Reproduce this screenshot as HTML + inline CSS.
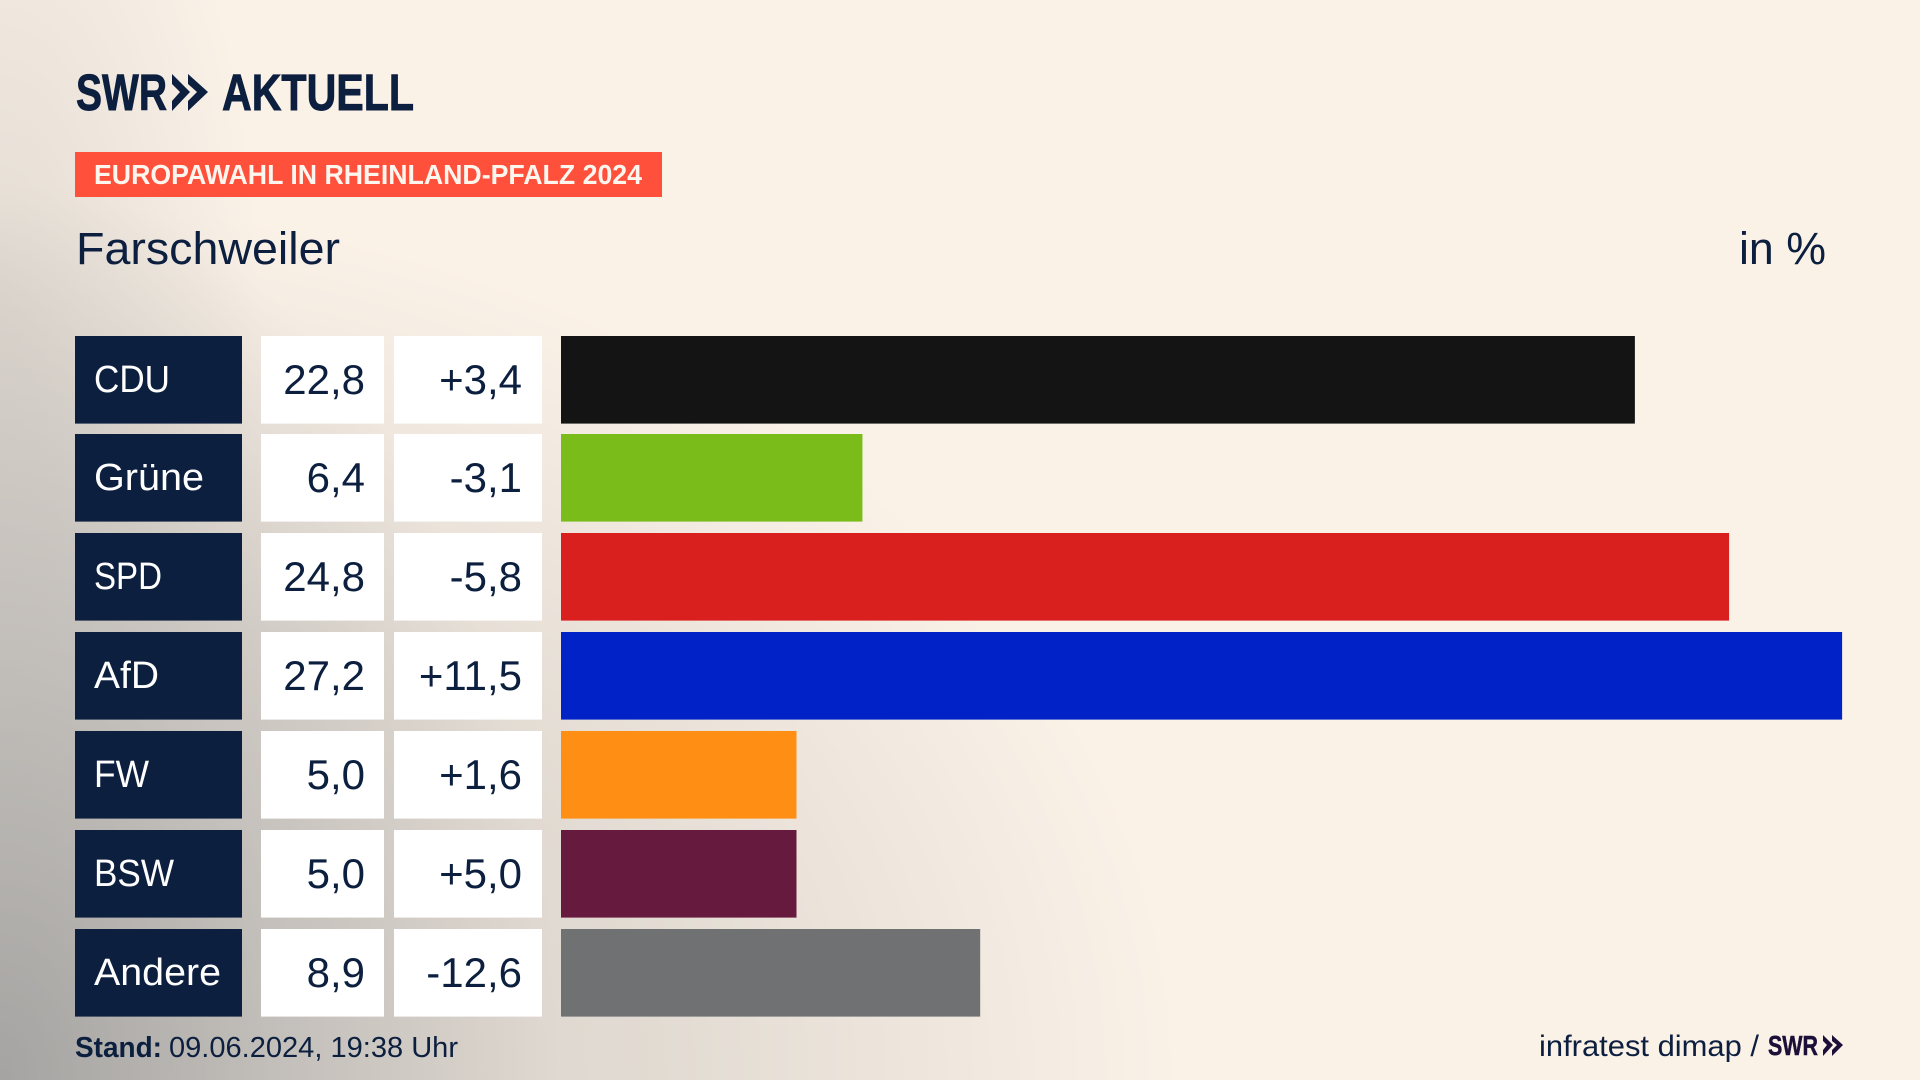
<!DOCTYPE html>
<html lang="de">
<head>
<meta charset="utf-8">
<title>Europawahl in Rheinland-Pfalz 2024 – Farschweiler</title>
<style>
html,body{margin:0;padding:0;width:1920px;height:1080px;overflow:hidden;background:#faf1e7}
#bg{position:absolute;left:0;top:0;width:1920px;height:1080px;
background:
radial-gradient(ellipse 560px 900px at 0px 1080px,rgba(150,150,150,.75) 0%,rgba(160,160,160,.4) 50%,rgba(170,170,170,0) 100%),
radial-gradient(ellipse 1180px 880px at 0px 1080px,rgba(165,162,158,.45) 0%,rgba(170,167,163,.3) 55%,rgba(180,177,172,0) 100%),
radial-gradient(ellipse 260px 560px at 0px 300px,rgba(170,167,163,.28) 0%,rgba(170,167,163,0) 100%),
#faf1e7}
svg{position:absolute;left:0;top:0}
text{font-family:"Liberation Sans","DejaVu Sans",sans-serif}
</style>
</head>
<body>
<div id="bg"></div>
<svg id="chart" width="1920" height="1080" viewBox="0 0 1920 1080" xmlns="http://www.w3.org/2000/svg">
  <g fill="#0c1f3f">
    <text x="76" y="110" font-size="51" font-weight="700" stroke="#0c1f3f" stroke-width="0.9" textLength="91" lengthAdjust="spacingAndGlyphs">SWR</text>
    <polygon points="172,74 190,92 172,111 172,101 180,92 172,84"/>
    <polygon points="188,74 208,92 188,111 188,101 197,92 188,84"/>
    <text x="222" y="110" font-size="51" font-weight="700" stroke="#0c1f3f" stroke-width="0.9" textLength="192" lengthAdjust="spacingAndGlyphs">AKTUELL</text>
  </g>
  <rect x="75" y="152" width="587" height="45" fill="#ff503c"/>
  <text x="94" y="184" font-size="28" font-weight="700" fill="#fdf6ee" textLength="548" lengthAdjust="spacingAndGlyphs">EUROPAWAHL IN RHEINLAND-PFALZ 2024</text>
  <text x="76" y="264" font-size="45" fill="#0c1f3f" textLength="264" lengthAdjust="spacingAndGlyphs">Farschweiler</text>
  <text x="1739" y="264" font-size="45" fill="#0c1f3f" textLength="87" lengthAdjust="spacingAndGlyphs">in %</text>
  <g id="rows"></g>
  <text x="75" y="1057" font-size="29" fill="#0c1f3f"><tspan font-weight="700" textLength="87" lengthAdjust="spacingAndGlyphs">Stand:</tspan><tspan x="169" textLength="289" lengthAdjust="spacingAndGlyphs">09.06.2024, 19:38 Uhr</tspan></text>
  <text x="1539" y="1056" font-size="30" fill="#0c1f3f" textLength="220" lengthAdjust="spacingAndGlyphs">infratest dimap /</text>
  <g fill="#1c1038">
    <text x="1768" y="1055" font-size="28" font-weight="700" stroke="#1c1038" stroke-width="0.5" textLength="50" lengthAdjust="spacingAndGlyphs">SWR</text>
    <polygon points="1823,1035 1833,1045 1823,1056 1823,1050 1827,1045 1823,1041"/>
    <polygon points="1832,1035 1843,1045 1832,1056 1832,1050 1837,1045 1832,1041"/>
  </g>
</svg>
<script>
const parties = ["CDU", "Grüne", "SPD", "AfD", "FW", "BSW", "Andere"];
const shares = [22.8, 6.4, 24.8, 27.2, 5.0, 5.0, 8.9];
const changes = [3.4, -3.1, -5.8, 11.5, 1.6, 5.0, -12.6];
const partyColors = ["#141414", "#7abd1a", "#d9201f", "#0022c6", "#ff8f14", "#661a3e", "#6f7173"];

const SVG_NS = "http://www.w3.org/2000/svg";
const rowsGroup = document.getElementById("rows");
const labelFit = { "CDU": 76, "Grüne": 110, "SPD": 68, "AfD": 65, "FW": 55, "BSW": 80, "Andere": 127 };

function xLength(v) { return v * 47.1; }
function yTop(i) { return Math.floor(336 + i * 98.85); }
function formatShare(v) { return v.toFixed(1).replace(".", ","); }
function formatChange(v) { return (v > 0 ? "+" : "") + v.toFixed(1).replace(".", ","); }

function makeRect(x, y, w, h, fill) {
  const r = document.createElementNS(SVG_NS, "rect");
  r.setAttribute("x", x);
  r.setAttribute("y", y);
  r.setAttribute("width", w);
  r.setAttribute("height", h);
  r.setAttribute("fill", fill);
  return r;
}
function makeText(x, y, size, fill, anchor, content) {
  const t = document.createElementNS(SVG_NS, "text");
  t.setAttribute("x", x);
  t.setAttribute("y", y);
  t.setAttribute("font-size", size);
  t.setAttribute("fill", fill);
  t.setAttribute("text-anchor", anchor);
  t.textContent = content;
  return t;
}

parties.forEach(function (party, i) {
  const top = yTop(i);
  const rowH = 87.6;
  const key = party.toLowerCase().replace("ü", "ue");

  const labelBox = makeRect(75, top, 167, rowH, "#0c1f3f");
  
  
  rowsGroup.appendChild(labelBox);

  const label = makeText(94, top + 56, 38, "#ffffff", "start", party);
  if (labelFit[party]) {
    label.setAttribute("textLength", labelFit[party]);
    label.setAttribute("lengthAdjust", "spacingAndGlyphs");
  }
  
  
  rowsGroup.appendChild(label);

  const shareBox = makeRect(261, top, 123, rowH, "#ffffff");
  
  
  rowsGroup.appendChild(shareBox);

  const share = makeText(365, top + 58, 42, "#0c1f3f", "end", formatShare(shares[i]));
  
  
  rowsGroup.appendChild(share);

  const changeBox = makeRect(394, top, 148, rowH, "#ffffff");
  
  
  rowsGroup.appendChild(changeBox);

  const change = makeText(522, top + 58, 42, "#0c1f3f", "end", formatChange(changes[i]));
  
  
  rowsGroup.appendChild(change);

  const bar = makeRect(561, top, xLength(shares[i]), rowH, partyColors[i]);
  
  
  rowsGroup.appendChild(bar);
});
</script>
</body>
</html>
